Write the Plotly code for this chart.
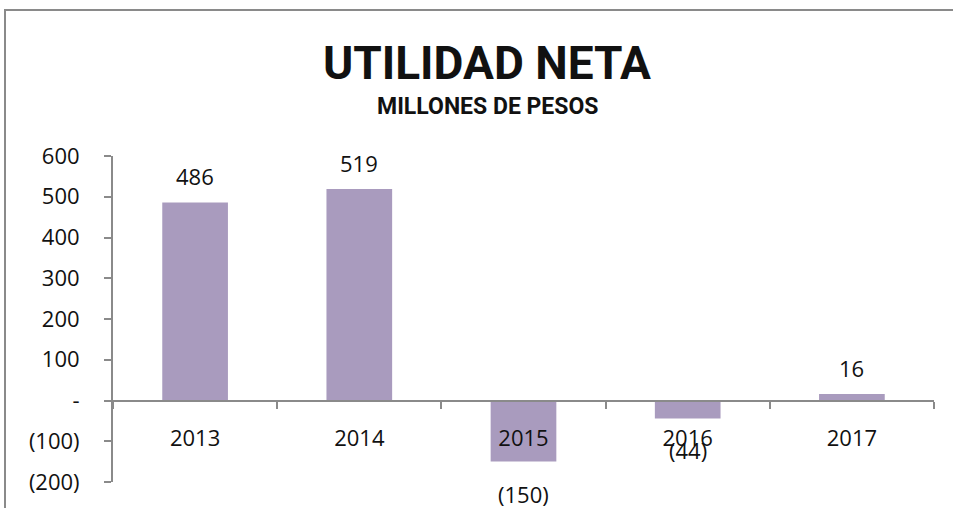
import plotly.graph_objects as go

years = ["2013", "2014", "2015", "2016", "2017"]
utilidad = [486, 519, -150, -44, 16]
tick_vals = [600, 500, 400, 300, 200, 100, 0, -100, -200]
tick_text = ["600", "500", "400", "300", "200", "100", "-", "(100)", "(200)"]

def fmt(v):
    return f"({abs(v)})" if v < 0 else f"{v}"

BAR = "#a99bbe"
AX = "#8a8a8a"
FONT = "Open Sans"

W, H = 953, 508
L, R, T, B = 113, 19, 156, 26
pw = W - L - R
ph = H - T - B

def px2x(px):
    return (px - L) / pw

def px2y(py):
    return (H - B - py) / ph

fig = go.Figure()
fig.add_trace(go.Bar(x=years, y=utilidad, marker=dict(color=BAR, line=dict(width=0)),
                     hoverinfo="x+y"))

annotations = []
for i, v in enumerate(utilidad):
    annotations.append(dict(x=i, y=v, xref="x", yref="y", text=fmt(v), showarrow=False,
                            yanchor="middle", yshift=26 if v >= 0 else -32,
                            font=dict(family=FONT, size=22, color="#111111")))

annotations.append(dict(x=px2x(487), y=px2y(106), xref="paper", yref="paper",
                        text="<b>MILLONES DE PESOS</b>", showarrow=False,
                        xanchor="center", yanchor="middle",
                        font=dict(family="Roboto", size=23, color="#111111")))

fig.update_layout(
    width=W, height=H,
    margin=dict(l=L, r=R, t=T, b=B, pad=0),
    paper_bgcolor="white", plot_bgcolor="white",
    showlegend=False,
    bargap=0.6,
    title=dict(text="<b>UTILIDAD NETA</b>", xref="container", yref="container",
               x=487 / W, y=1 - 63 / H, xanchor="center", yanchor="middle",
               font=dict(family="Roboto", size=46, color="#111111")),
    annotations=annotations,
    shapes=[dict(type="rect", xref="paper", yref="paper",
                 x0=px2x(5), x1=px2x(1100), y0=px2y(700), y1=px2y(10),
                 line=dict(color=AX, width=2), fillcolor="rgba(0,0,0,0)", layer="below")],
)

fig.update_xaxes(
    type="category", range=[-0.5, 4.5],
    anchor="free", position=(0 - (-200)) / (600 - (-200)),
    showline=True, linecolor=AX, linewidth=2,
    ticks="outside", tickson="boundaries", ticklen=7, tickcolor=AX, tickwidth=2,
    showgrid=False, zeroline=False,
    tickfont=dict(family=FONT, size=22, color="#111111"),
    ticklabelstandoff=18,
)
fig.update_yaxes(
    range=[-200, 600], tickvals=tick_vals, ticktext=tick_text,
    showline=True, linecolor=AX, linewidth=2,
    ticks="outside", ticklen=7, tickcolor=AX, tickwidth=2,
    showgrid=False, zeroline=False,
    tickfont=dict(family=FONT, size=22, color="#111111"),
    ticklabelstandoff=20,
)

fig.write_html(
    "out.html",
    config={"displayModeBar": False},
    post_script="document.body.style.margin='0';document.body.style.overflow='hidden';",
)
